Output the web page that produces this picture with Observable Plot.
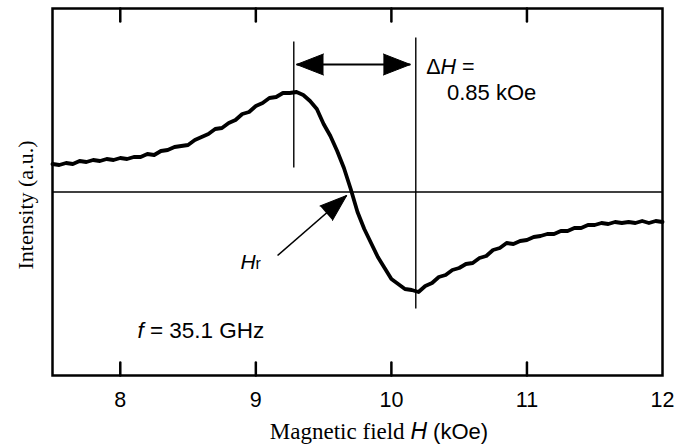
<!DOCTYPE html>
<html><head><meta charset="utf-8">
<script src="https://cdn.jsdelivr.net/npm/d3@7"></script>
<script src="https://cdn.jsdelivr.net/npm/@observablehq/plot@0.6"></script>
<style>body{margin:0;background:#fff} svg{display:block}</style>
</head><body><div id="chart"></div>
<script>
// Magnetic field H (kOe)
const field = [
  7.50, 7.55, 7.60, 7.65, 7.70, 7.75, 7.80, 7.85, 7.90, 7.95,
  8.00, 8.05, 8.10, 8.15, 8.20, 8.25, 8.30, 8.35, 8.40, 8.45,
  8.50, 8.55, 8.60, 8.65, 8.70, 8.75, 8.80, 8.85, 8.90, 8.95,
  9.00, 9.05, 9.10, 9.15, 9.20, 9.25, 9.30, 9.35, 9.40, 9.45,
  9.50, 9.55, 9.60, 9.65, 9.70, 9.75, 9.80, 9.85, 9.90, 9.95,
  10.00, 10.05, 10.10, 10.15, 10.20, 10.25, 10.30, 10.35, 10.40, 10.45,
  10.50, 10.55, 10.60, 10.65, 10.70, 10.75, 10.80, 10.85, 10.90, 10.95,
  11.00, 11.05, 11.10, 11.15, 11.20, 11.25, 11.30, 11.35, 11.40, 11.45,
  11.50, 11.55, 11.60, 11.65, 11.70, 11.75, 11.80, 11.85, 11.90, 11.95,
  12.00
];
// Intensity (a.u.), derivative absorption signal
const intensity = [
  0.28, 0.27, 0.29, 0.28, 0.31, 0.30, 0.32, 0.31, 0.33, 0.32,
  0.34, 0.33, 0.35, 0.35, 0.38, 0.37, 0.41, 0.42, 0.45, 0.46,
  0.47, 0.52, 0.55, 0.58, 0.63, 0.64, 0.69, 0.72, 0.78, 0.80,
  0.86, 0.89, 0.94, 0.95, 0.99, 0.99, 1.00, 0.97, 0.91, 0.83,
  0.68, 0.56, 0.41, 0.24, 0.03, -0.20, -0.37, -0.51, -0.65, -0.76,
  -0.87, -0.92, -0.97, -0.98, -1.00, -0.94, -0.91, -0.85, -0.83, -0.78,
  -0.76, -0.72, -0.71, -0.66, -0.64, -0.58, -0.56, -0.51, -0.52, -0.49,
  -0.48, -0.45, -0.44, -0.42, -0.42, -0.39, -0.39, -0.36, -0.36, -0.33,
  -0.33, -0.31, -0.32, -0.30, -0.31, -0.30, -0.31, -0.29, -0.31, -0.29,
  -0.30
];
const xTicks = [8, 9, 10, 11, 12];
const innerTicks = [8, 9, 10, 11];
const xDomain = [7.5, 12];
const yDomain = [-1.835, 1.835];
const baseline = [0];
// ΔH marker lines (peak and trough fields)
const dhLineX = [9.28, 10.18];
const dhLineTop = [1.50, 1.54];
const dhLineBottom = [0.24, -1.17];
// double arrow
const dhArrowX = [9.30, 10.14];
const dhArrowY = [1.275];
// Hr pointer arrow: tail and tip
const hrArrowX = [9.16, 9.67];
const hrArrowY = [-0.635, -0.035];
// text anchors
const dhLabel = {x: 10.26, y: 1.25};
const dhValueLabel = {x: 10.41, y: 0.995, text: "0.85 kOe"};
const hrLabel = {x: 8.89, y: -0.70};
const fLabel = {x: 8.13, y: -1.385};

const W = 692, H = 445, ML = 52, MR = 30, MT = 8, MB = 70;
const SANS = "'Liberation Sans', Arial, Helvetica, sans-serif";
const SERIF = "'Liberation Serif', 'Times New Roman', serif";

const data = field.map((h, i) => ({h, v: intensity[i]}));
const kx = (W - ML - MR) / (xDomain[1] - xDomain[0]);
const ky = (H - MT - MB) / (yDomain[1] - yDomain[0]);
const hrAngle = Math.atan2((hrArrowX[1] - hrArrowX[0]) * kx, (hrArrowY[1] - hrArrowY[0]) * ky) * 180 / Math.PI;

const tickShape = {draw(context, l) { context.moveTo(0, 0); context.lineTo(0, -l); }};

const plot = Plot.plot({
  width: W, height: H,
  marginLeft: ML, marginRight: MR, marginTop: MT, marginBottom: MB,
  style: {fontFamily: SANS, background: "white", color: "black"},
  x: {domain: xDomain},
  y: {domain: yDomain, axis: null},
  marks: [
    Plot.axisX(xTicks, {tickSize: 0, tickPadding: 16, fontSize: 21.5, fontFamily: SANS, label: null, tickFormat: d => String(d)}),
    Plot.ruleY(baseline, {stroke: "black", strokeWidth: 1.4}),
    Plot.ruleX(dhLineX, {x: d => d, y1: (d, i) => dhLineTop[i], y2: (d, i) => dhLineBottom[i], stroke: "black", strokeWidth: 1.4}),
    Plot.link(dhArrowY, {x1: dhArrowX[0], x2: dhArrowX[1], y1: d => d, y2: d => d, stroke: "black", strokeWidth: 2}),
    Plot.vector(dhArrowY, {x: dhArrowX[0], y: d => d, rotate: -90, length: 27, r: 10.5, shape: "spike", anchor: "end", fill: "black", stroke: "black", strokeWidth: 1}),
    Plot.vector(dhArrowY, {x: dhArrowX[1], y: d => d, rotate: 90, length: 27, r: 10.5, shape: "spike", anchor: "end", fill: "black", stroke: "black", strokeWidth: 1}),
    Plot.link([0], {x1: hrArrowX[0], x2: hrArrowX[1], y1: hrArrowY[0], y2: hrArrowY[1], stroke: "black", strokeWidth: 1.6}),
    Plot.vector([0], {x: hrArrowX[1], y: hrArrowY[1], rotate: hrAngle, length: 27, r: 9.5, shape: "spike", anchor: "end", fill: "black", stroke: "black", strokeWidth: 1}),
    Plot.line(data, {x: "h", y: "v", stroke: "black", strokeWidth: 3.8, strokeLinejoin: "round"}),
    Plot.vector(innerTicks, {x: d => d, frameAnchor: "bottom", rotate: 0, length: 13, anchor: "start", shape: tickShape, stroke: "black", strokeWidth: 2.5}),
    Plot.vector(innerTicks, {x: d => d, frameAnchor: "top", rotate: 180, length: 13, anchor: "start", shape: tickShape, stroke: "black", strokeWidth: 2.5}),
    Plot.text([dhValueLabel], {x: "x", y: "y", text: "text", textAnchor: "start", fontSize: 22, fontFamily: SANS, fill: "black"}),
    Plot.frame({stroke: "black", strokeWidth: 2.5})
  ]
});

const sx = plot.scale("x").apply, sy = plot.scale("y").apply;
const svg = d3.select(plot);

// ΔH =
{
  const t = svg.append("text").attr("x", sx(dhLabel.x)).attr("y", sy(dhLabel.y)).attr("dy", "0.35em")
    .attr("text-anchor", "start").attr("font-family", SANS).attr("font-size", 21.5).attr("fill", "black");
  t.append("tspan").text("Δ");
  t.append("tspan").attr("font-style", "italic").text("H");
  t.append("tspan").text(" =");
}
// Hr
{
  const t = svg.append("text").attr("x", sx(hrLabel.x)).attr("y", sy(hrLabel.y)).attr("dy", "0.35em")
    .attr("text-anchor", "start").attr("font-family", SANS).attr("font-size", 21).attr("fill", "black");
  t.append("tspan").attr("font-style", "italic").text("H");
  t.append("tspan").attr("font-size", 16).text("r");
}
// f = 35.1 GHz
{
  const t = svg.append("text").attr("x", sx(fLabel.x)).attr("y", sy(fLabel.y)).attr("dy", "0.35em")
    .attr("text-anchor", "start").attr("font-family", SANS).attr("font-size", 22.5).attr("fill", "black");
  t.append("tspan").attr("font-style", "italic").text("f");
  t.append("tspan").text(" = 35.1 GHz");
}
// x axis title
{
  const t = svg.append("text").attr("x", 379).attr("y", 439).attr("text-anchor", "middle")
    .attr("font-size", 23).attr("fill", "black");
  t.append("tspan").attr("font-family", SERIF).text("Magnetic field ");
  t.append("tspan").attr("font-family", SANS).attr("font-style", "italic").text("H");
  t.append("tspan").attr("font-family", SANS).attr("font-size", 22).text(" (kOe)");
}
// y axis title
svg.append("text").attr("transform", "translate(33,205) rotate(-90)").attr("text-anchor", "middle")
  .attr("font-family", SERIF).attr("font-size", 22).attr("fill", "black").text("Intensity (a.u.)");

document.getElementById("chart").appendChild(plot);
</script>
</body></html>
